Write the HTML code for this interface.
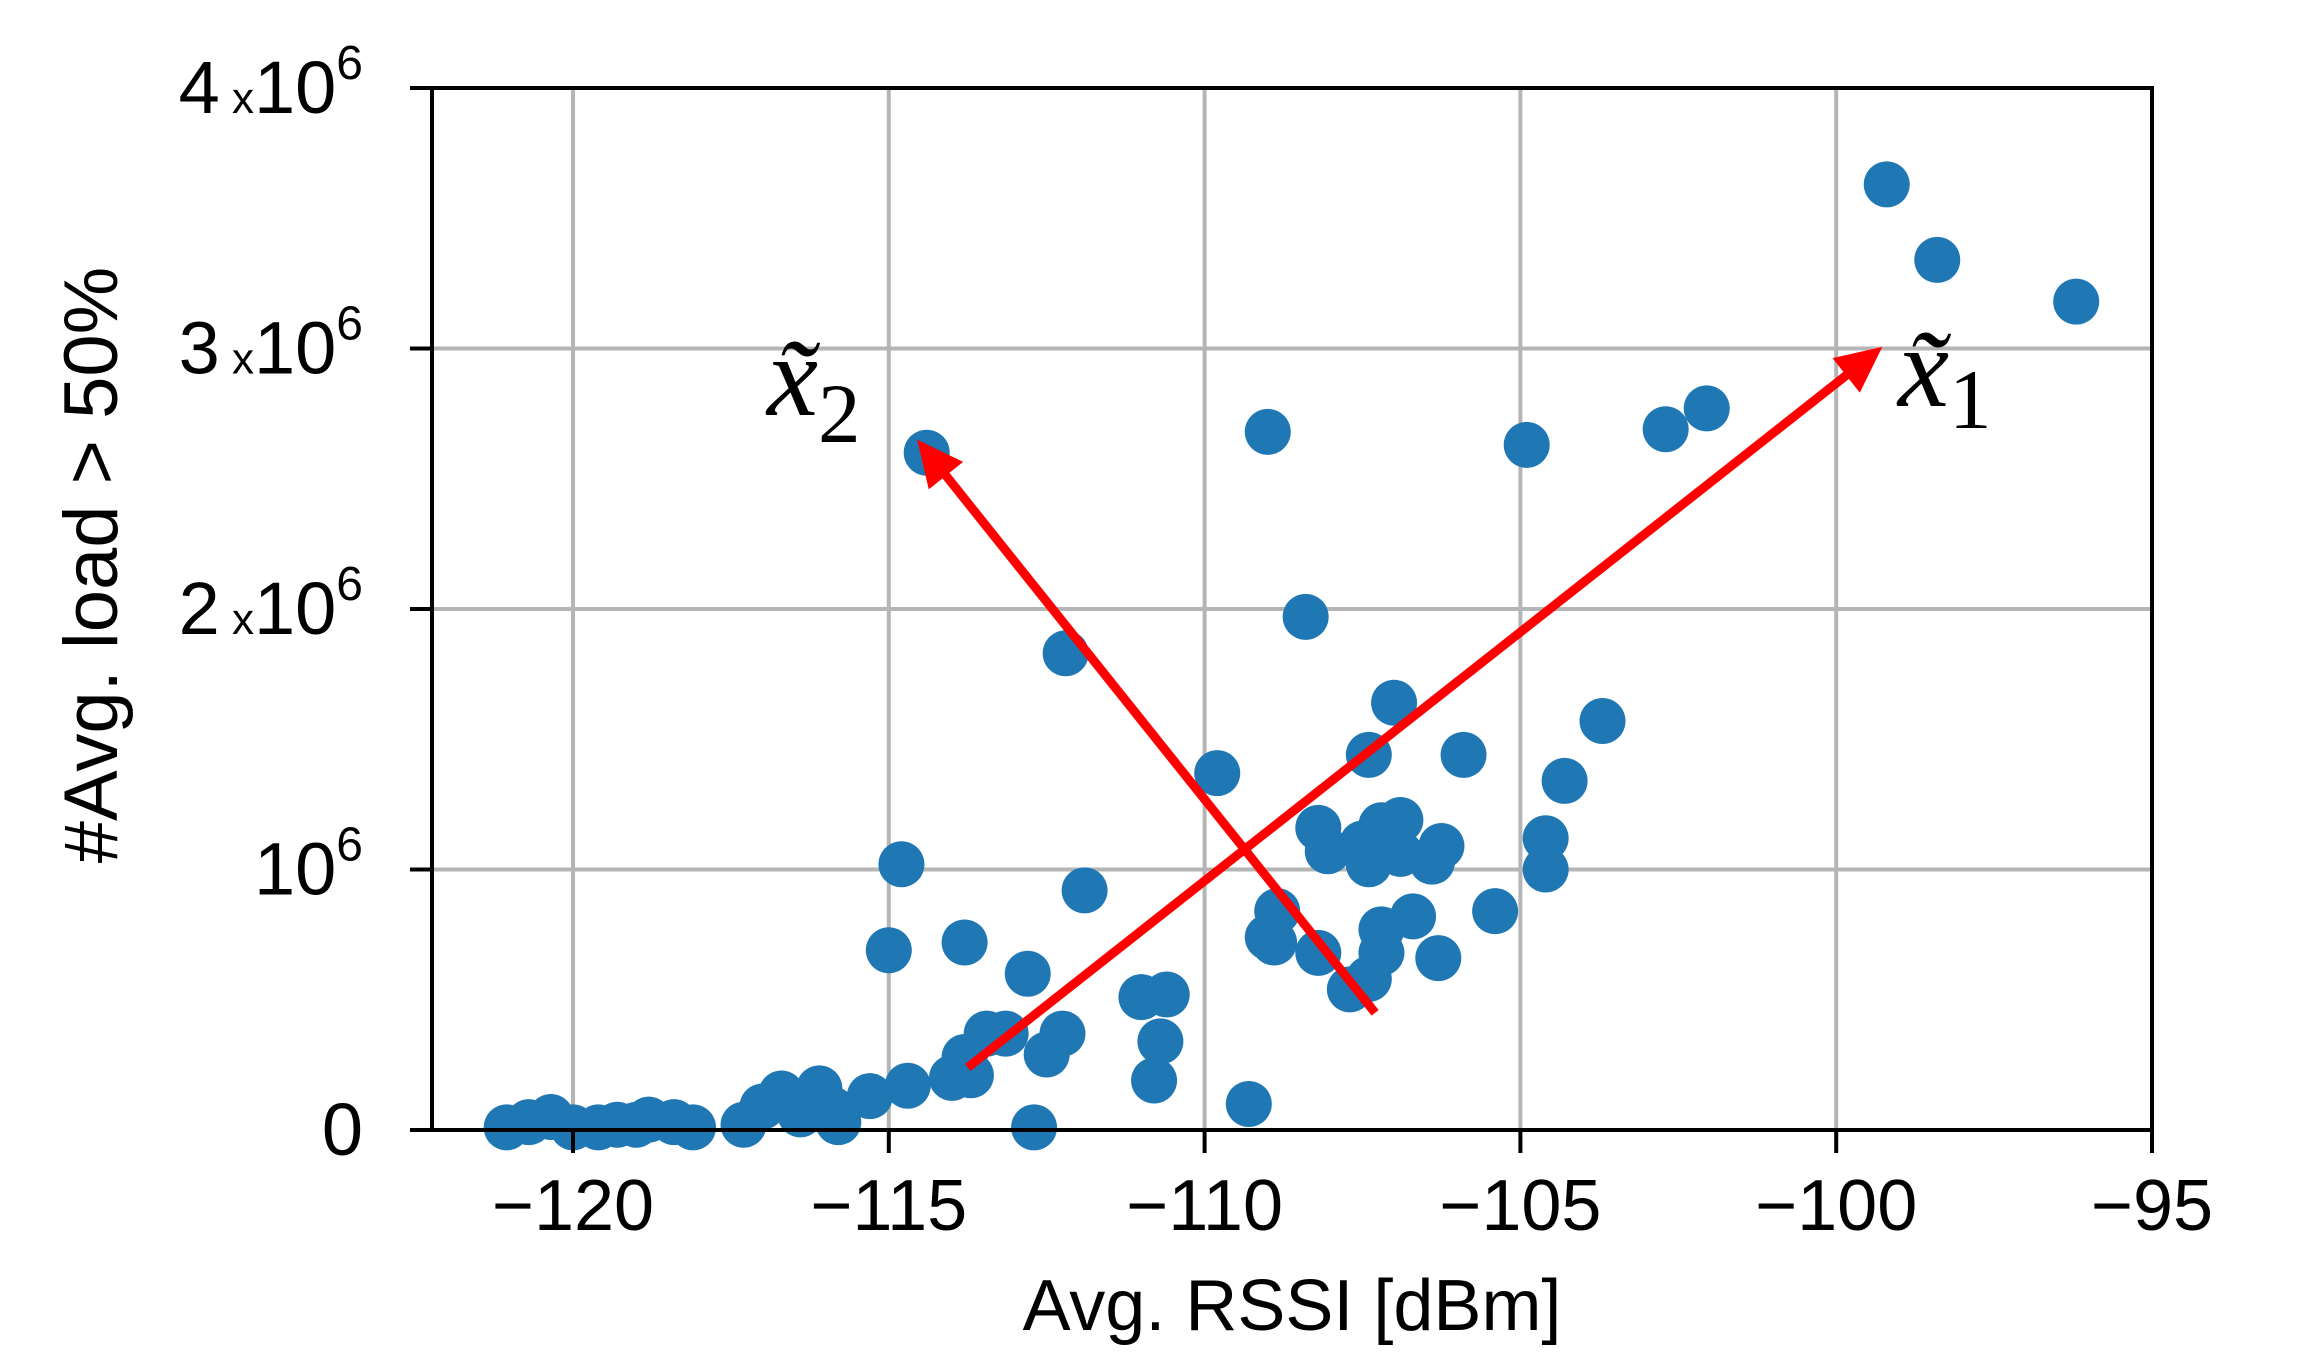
<!DOCTYPE html>
<html><head><meta charset="utf-8"><style>
html,body{margin:0;padding:0;background:#fff;}
svg{display:block;font-family:"Liberation Sans",sans-serif;}
</style></head><body>
<svg id="chart" width="2299" height="1372" viewBox="0 0 2299 1372" xmlns="http://www.w3.org/2000/svg">
<g id="grid"></g>
<g id="points"></g>
<g id="arrows"></g>
<rect x="432" y="88" width="1720" height="1042" fill="none" stroke="#000" stroke-width="4"/>
<g id="xticks"></g>
<g id="yticks"></g>
<text x="1292" y="1330" font-size="72" text-anchor="middle">Avg. RSSI [dBm]</text>
<text transform="translate(117,565) rotate(-90)" font-size="76" text-anchor="middle">#Avg. load &gt; 50%</text>
<text x="1898" y="406" font-family="Liberation Serif, serif" font-size="115"><tspan font-style="italic">x̃</tspan><tspan font-size="85" dy="22">1</tspan></text>
<text x="767" y="415" font-family="Liberation Serif, serif" font-size="115"><tspan font-style="italic">x̃</tspan><tspan font-size="85" dy="27">2</tspan></text>
</svg>
<script>
const xVals=[-99.2,-98.4,-96.2,-102.05,-102.7,-104.9,-109.0,-114.4,-108.4,-112.2,-107.0,-103.7,-107.4,-105.9,-109.8,-104.3,-108.2,-108.05,-107.2,-106.9,-107.5,-107.4,-106.9,-106.4,-106.25,-104.6,-104.6,-114.8,-111.9,-108.85,-106.7,-105.4,-107.2,-109.0,-115.0,-113.8,-108.2,-107.2,-106.3,-112.8,-107.7,-107.4,-111.0,-110.6,-110.7,-110.8,-112.25,-112.5,-113.45,-113.15,-113.8,-114.0,-113.7,-114.7,-109.3,-112.7,-115.3,-116.1,-116.7,-117.0,-116.4,-115.8,-117.3,-120.35,-120.7,-121.05,-120.0,-119.6,-119.3,-118.8,-118.4,-118.1,-119.0,-108.9,-115.9];
const yVals=[3.63,3.34,3.18,2.77,2.69,2.63,2.68,2.60,1.97,1.83,1.64,1.57,1.44,1.44,1.37,1.34,1.16,1.07,1.17,1.19,1.10,1.02,1.06,1.03,1.09,1.12,1.00,1.02,0.92,0.84,0.82,0.84,0.77,0.74,0.69,0.72,0.68,0.68,0.66,0.60,0.54,0.58,0.51,0.52,0.34,0.19,0.37,0.29,0.37,0.37,0.28,0.20,0.21,0.17,0.10,0.01,0.13,0.16,0.14,0.09,0.06,0.03,0.02,0.05,0.03,0.01,0.01,0.01,0.02,0.04,0.03,0.01,0.02,0.72,0.08];
const xTicks=[-120,-115,-110,-105,-100,-95];
const xTickLabels=["\u2212120","\u2212115","\u2212110","\u2212105","\u2212100","\u221295"];
const yTicks=[0,1,2,3,4];
const yTickMult=["0","","2","3","4"];
const arrowX1=[-113.75,-99.27];
const arrowY1=[0.24,3.006];
const arrowX2=[-107.3,-114.55];
const arrowY2=[0.45,2.65];
const NS="http://www.w3.org/2000/svg";
const X=v=>573+(v+120)*63.16;
const Y=v=>1130-v*260.5;
function mk(t,a,p){const e=document.createElementNS(NS,t);for(const k in a)e.setAttribute(k,a[k]);p.appendChild(e);return e;}
const grid=document.getElementById('grid'),pts=document.getElementById('points'),arr=document.getElementById('arrows'),xt=document.getElementById('xticks'),yt=document.getElementById('yticks');
xTicks.forEach((v,i)=>{
 const l=mk('line',{x1:X(v),x2:X(v),y1:88,y2:1130,stroke:'#b5b5b5','stroke-width':4},grid);
 
 
 const t=mk('line',{x1:X(v),x2:X(v),y1:1130,y2:1153,stroke:'#000','stroke-width':4},xt);
 
 
 const tx=mk('text',{x:X(v),y:1230,'font-size':72,'text-anchor':'middle'},xt);
 tx.textContent=xTickLabels[i];
 
 
});
yTicks.forEach((v,i)=>{
 const l=mk('line',{x1:432,x2:2152,y1:Y(v),y2:Y(v),stroke:'#b5b5b5','stroke-width':4},grid);
 
 
 const t=mk('line',{x1:410,x2:432,y1:Y(v),y2:Y(v),stroke:'#000','stroke-width':4},yt);
 
 
 const tx=mk('text',{x:363,y:Y(v)+25,'font-size':74,'text-anchor':'end'},yt);
 
 
 if(v===0){tx.textContent='0';}
 else{
  let h='';
  if(yTickMult[i])h+='<tspan>'+yTickMult[i]+'</tspan><tspan font-size="44"> x</tspan>';
  h+='<tspan>10</tspan><tspan font-size="48" dy="-34">6</tspan>';
  tx.innerHTML=h;
 }
});
xVals.forEach((v,i)=>{
 const c=mk('circle',{cx:X(v),cy:Y(yVals[i]),r:23,fill:'#1f77b4'},pts);
 
 
});
[[arrowX1,arrowY1,'arrow-x1'],[arrowX2,arrowY2,'arrow-x2']].forEach(a=>{
 const x1=X(a[0][0]),y1=Y(a[1][0]),x2=X(a[0][1]),y2=Y(a[1][1]);
 const dx=x2-x1,dy=y2-y1,L=Math.hypot(dx,dy),ux=dx/L,uy=dy/L,hl=46,hw=22;
 const bx=x2-ux*hl,by=y2-uy*hl;
 const l=mk('line',{x1:x1,y1:y1,x2:bx+ux*4,y2:by+uy*4,stroke:'#ff0000','stroke-width':9},arr);
 
 
 const h=mk('polygon',{points:`${x2},${y2} ${bx-uy*hw},${by+ux*hw} ${bx+uy*hw},${by-ux*hw}`,fill:'#ff0000'},arr);
 
 
});
</script>
</body></html>
